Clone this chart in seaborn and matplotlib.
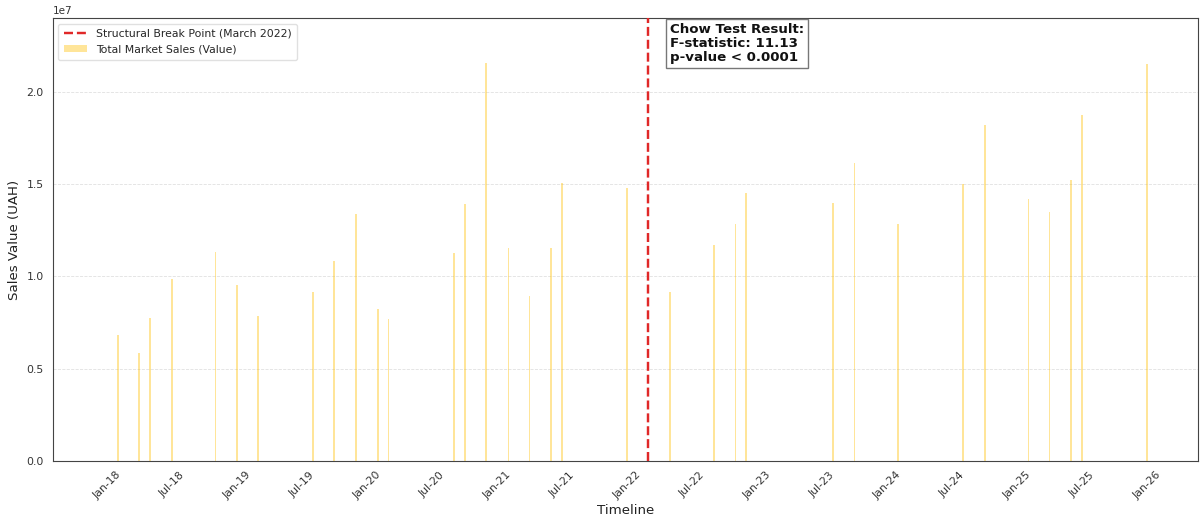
import matplotlib
matplotlib.use("Agg")
import matplotlib.pyplot as plt
import matplotlib.dates as mdates
import seaborn as sns
import pandas as pd
import numpy as np

# ---- data ----
months = ["2018-02", "2018-04", "2018-05", "2018-07", "2018-11", "2019-01", "2019-03",
          "2019-08", "2019-10", "2019-12", "2020-02", "2020-03", "2020-09", "2020-10",
          "2020-12", "2021-02", "2021-04", "2021-06", "2021-07", "2022-01", "2022-05",
          "2022-09", "2022-11", "2022-12", "2023-08", "2023-10", "2024-02", "2024-08",
          "2024-10", "2025-02", "2025-04", "2025-06", "2025-07", "2026-01"]
sales_e7 = [0.684, 0.583, 0.774, 0.984, 1.135, 0.955, 0.785,
            0.913, 1.081, 1.341, 0.825, 0.771, 1.128, 1.392,
            2.157, 1.153, 0.895, 1.153, 1.507, 1.482, 0.913,
            1.168, 1.282, 1.453, 1.399, 1.616, 1.282, 1.502,
            1.819, 1.417, 1.350, 1.523, 1.875, 2.152]
break_date = "2022-03-01"
chow_f = 11.13
chow_p_text = "p-value < 0.0001"

dates = pd.to_datetime(months, format="%Y-%m")
df = pd.DataFrame({"date_num": mdates.date2num(dates),
                   "sales": np.array(sales_e7) * 1e7})

sns.set_style("white")
plt.rcParams["font.family"] = ["DejaVu Sans"]

fig = plt.figure(figsize=(12, 5.19), dpi=100)
ax = fig.add_axes([0.044, 0.112, 0.954, 0.853])

brk = mdates.date2num(pd.Timestamp(break_date))
ax.axvline(brk, color="#E02828", linestyle="--", linewidth=1.75,
           label="Structural Break Point (March 2022)", zorder=3)

sns.barplot(data=df, x="date_num", y="sales", native_scale=True, width=0.18,
            color="#FFC000", alpha=0.4, ax=ax, label="Total Market Sales (Value)",
            errorbar=None, saturation=1, linewidth=0)

ax.set_xlim(mdates.date2num(pd.Timestamp("2017-08-01")),
            mdates.date2num(pd.Timestamp("2026-05-22")))
ax.set_ylim(0, 2.4e7)
ax.set_yticks([0, 0.5e7, 1.0e7, 1.5e7, 2.0e7])
ax.xaxis.set_major_locator(mdates.MonthLocator(bymonth=[1, 7]))
ax.xaxis.set_major_formatter(mdates.DateFormatter("%b-%y"))
ax.tick_params(axis="x", labelsize=7.8, rotation=45, length=3, width=0.7, colors="#333333")
ax.tick_params(axis="y", labelsize=7.8, length=3, width=0.7, colors="#333333")
ax.yaxis.get_offset_text().set_fontsize(7.5)
ax.yaxis.get_offset_text().set_color("#333333")

ax.grid(axis="y", linestyle="--", color="#cccccc", alpha=0.6, linewidth=0.6)
ax.grid(axis="x", visible=False)
for s in ax.spines.values():
    s.set_visible(True)
    s.set_color("#444444")
    s.set_linewidth(0.8)

ax.set_xlabel("Timeline", fontsize=9.6, color="#222222", labelpad=2)
ax.set_ylabel("Sales Value (UAH)", fontsize=9.6, color="#222222")

ax.text(brk + 60, 0.99, f"Chow Test Result:\nF-statistic: {chow_f:.2f}\n{chow_p_text}",
        transform=ax.get_xaxis_transform(), ha="left", va="top",
        fontsize=9.6, fontweight="bold", color="#111111", linespacing=1.1,
        bbox=dict(boxstyle="square,pad=0.3", facecolor="white", edgecolor="#777777",
                  linewidth=1.0))

leg = ax.legend(loc="upper left", fontsize=7.8, frameon=True, framealpha=0.9,
                edgecolor="#dddddd", borderpad=0.5, handlelength=2.2)

fig.savefig("out.png", dpi=100)
